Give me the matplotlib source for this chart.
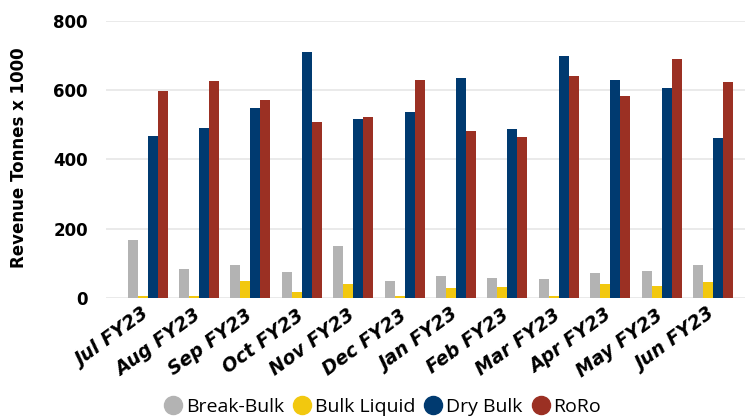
import matplotlib
matplotlib.use("Agg")
import matplotlib.pyplot as plt
import matplotlib.transforms as mtransforms
from matplotlib.lines import Line2D
import numpy as np

months = ["Jul FY23", "Aug FY23", "Sep FY23", "Oct FY23", "Nov FY23", "Dec FY23",
          "Jan FY23", "Feb FY23", "Mar FY23", "Apr FY23", "May FY23", "Jun FY23"]
break_bulk = [167, 85, 94, 74, 149, 49, 63, 58, 56, 71, 78, 94]
bulk_liquid = [7, 7, 48, 18, 40, 7, 29, 31, 7, 40, 35, 45]
dry_bulk = [469, 492, 550, 710, 518, 538, 636, 488, 698, 631, 607, 463]
roro = [598, 627, 572, 507, 523, 631, 482, 466, 640, 582, 691, 624]

series = [("Break-Bulk", break_bulk, "#b3b3b3"),
          ("Bulk Liquid", bulk_liquid, "#f2c80f"),
          ("Dry Bulk", dry_bulk, "#003a70"),
          ("RoRo", roro, "#9b3023")]

fig = plt.figure(figsize=(7.49, 4.16), dpi=100)
ax = fig.add_axes([0.1415, 0.2837, 0.853, 0.6658])

x = np.arange(len(months))
w = 0.195
for i, (name, vals, col) in enumerate(series):
    ax.bar(x + (i - 1.5) * w, vals, width=w, color=col, zorder=3)

ax.set_ylim(0, 800)
ax.set_xlim(-0.81, 11.62)
ax.set_yticks([0, 200, 400, 600, 800])
ax.grid(axis="y", color="#e6e6e6", linewidth=1.2, zorder=0)
for s in ax.spines.values():
    s.set_visible(False)
ax.tick_params(axis="both", length=0)
ax.tick_params(axis="y", pad=13)
for lab in ax.get_yticklabels():
    lab.set_fontsize(12)
    lab.set_fontweight("bold")
    lab.set_family("DejaVu Sans")

ax.set_xticks(x)
ax.set_xticklabels(months, rotation=36, ha="right", rotation_mode="anchor",
                   fontsize=13.5, fontweight="bold", fontstyle="oblique",
                   family="DejaVu Sans")
ax.tick_params(axis="x", pad=5.5)
shift = mtransforms.ScaledTranslation(-6 / 100, 0, fig.dpi_scale_trans)
for lab in ax.get_xticklabels():
    lab.set_transform(lab.get_transform() + shift)

ax.set_ylabel("Revenue Tonnes x 1000", fontsize=12, fontweight="bold",
              family="DejaVu Sans")
ax.yaxis.set_label_coords(-0.122, 0.507)

handles = [Line2D([], [], marker="o", linestyle="none", markersize=13,
                  markerfacecolor=c, markeredgecolor=c, label=n)
           for n, _, c in series]
fig.legend(handles=handles, loc="center", bbox_to_anchor=(0.509, 0.022), ncol=4,
           frameon=False, handlelength=1.2, handletextpad=0.05, columnspacing=0.34,
           prop={"family": "Open Sans", "size": 14})

fig.savefig("out.png", dpi=100)
